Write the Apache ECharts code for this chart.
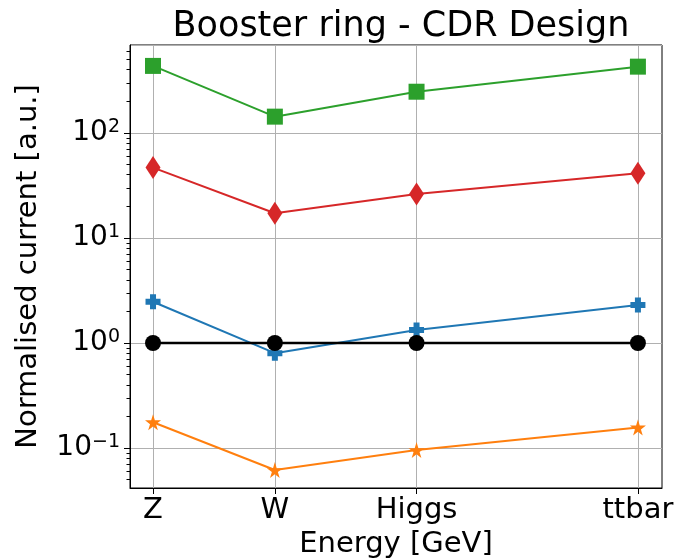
<!DOCTYPE html>
<html lang="en">
  <head>
    <meta charset="UTF-8" />
    <title>Booster ring - CDR Design</title>
    <script src="https://cdn.jsdelivr.net/npm/echarts@6/dist/echarts.min.js"></script>
    <style>
      html, body { margin: 0; padding: 0; background: #fff; }
      #main { width: 676px; height: 559px; }
    </style>
  </head>
  <body>
    <div id="main"></div>
    <script>
      // energies of the working points (GeV) and their labels
      const energies = [45.6, 80, 120, 182.5];
      const pointNames = ["Z", "W", "Higgs", "ttbar"];

      // normalised currents
      const greenVals = [435, 143, 247, 428];
      const redVals = [46.8, 17.2, 26.2, 41.3];
      const blueVals = [2.47, 0.8, 1.33, 2.3];
      const blackVals = [1, 1, 1, 1];
      const orangeVals = [0.176, 0.0617, 0.0957, 0.157];

      // log minor tick positions (2..9 x each decade)
      const minorTicks = [];
      [0.01, 0.1, 1, 10, 100].forEach((d) => {
        for (let k = 2; k <= 9; k++) minorTicks.push(+(k * d).toPrecision(3));
      });

      const plusPath = "path://M3,0 L7,0 L7,3 L10,3 L10,7 L7,7 L7,10 L3,10 L3,7 L0,7 L0,3 L3,3 Z";
      const starPath = "path://M50,0 L61,35 L98,35 L68,57 L79,91 L50,70 L21,91 L32,57 L2,35 L39,35 Z";

      const toPairs = (vals) => vals.map((v, i) => [energies[i], v]);

      const mkSeries = (vals, color, symbol, size, width) => ({
        type: "line",
        data: toPairs(vals),
        symbol: symbol,
        symbolSize: size,
        showAllSymbol: true,
        lineStyle: { color: color, width: width || 2 },
        itemStyle: { color: color },
        z: 3,
      });

      // 10^n labels with a superscript exponent
      const sup = (v) => {
        const e = Math.log10(v);
        const r = Math.round(e);
        if (Math.abs(e - r) > 1e-6) return "";
        return "10{s|" + String(r).replace("-", "\u2212") + "}";
      };

      const yMin = 0.0416;
      const yMax = 688;

      const chart = echarts.init(document.getElementById("main"));
      chart.setOption({
        animation: false,
        backgroundColor: "#fff",
        textStyle: { fontFamily: "DejaVu Sans" },
        title: {
          text: "Booster ring - CDR Design",
          left: 396,
          textAlign: "center",
          top: 4,
          textStyle: { fontSize: 35, fontWeight: "normal", color: "#000", fontFamily: "DejaVu Sans" },
        },
        grid: {
          left: 130,
          right: 14,
          top: 45,
          bottom: 71,
          outerBoundsMode: "none",
          containLabel: false,
          show: true,
          borderColor: "#000",
          borderWidth: 1,
        },
        xAxis: {
          type: "value",
          min: 39.1,
          max: 189.3,
          name: "Energy [GeV]",
          nameLocation: "middle",
          nameGap: 41,
          nameTextStyle: { fontSize: 29, color: "#000" },
          axisLine: { lineStyle: { color: "#000" } },
          axisTick: { customValues: energies, length: 6, lineStyle: { color: "#000" } },
          axisLabel: {
            customValues: energies,
            fontSize: 29,
            color: "#000",
            margin: 8,
            formatter: (v) => {
              const i = energies.findIndex((e) => Math.abs(e - v) < 1e-6);
              return i >= 0 ? pointNames[i] : "";
            },
          },
          splitLine: { show: true, lineStyle: { color: "#b0b0b0", width: 1 } },
        },
        yAxis: [
          {
            type: "log",
            logBase: 10,
            min: yMin,
            max: yMax,
            name: "Normalised current [a.u.]",
            nameLocation: "middle",
            nameGap: 87,
            nameTextStyle: { fontSize: 29, color: "#000" },
            axisLine: { show: true, lineStyle: { color: "#000" } },
            axisTick: { length: 6, lineStyle: { color: "#000" } },
            axisLabel: {
              fontSize: 28,
              color: "#000",
              margin: 10,
              showMinLabel: false,
              showMaxLabel: false,
              formatter: sup,
              rich: { s: { fontSize: 19, verticalAlign: "top", padding: [0, 0, 12, 0] } },
            },
            splitLine: { show: true, lineStyle: { color: "#b0b0b0", width: 1 } },
          },
          {
            // minor ticks only
            type: "log",
            logBase: 10,
            min: yMin,
            max: yMax,
            position: "left",
            axisLine: { show: false },
            axisTick: { show: true, customValues: minorTicks, length: 3.5, lineStyle: { color: "#000" } },
            axisLabel: { show: false, customValues: minorTicks },
            splitLine: { show: false },
          },
        ],
        series: [
          mkSeries(blueVals, "#1f77b4", plusPath, 15),
          mkSeries(orangeVals, "#ff7f0e", starPath, 16),
          mkSeries(greenVals, "#2ca02c", "rect", 16),
          mkSeries(redVals, "#d62728", "diamond", [15, 23]),
          mkSeries(blackVals, "#000000", "circle", 16, 2.5),
        ],
      });
    </script>
  </body>
</html>
